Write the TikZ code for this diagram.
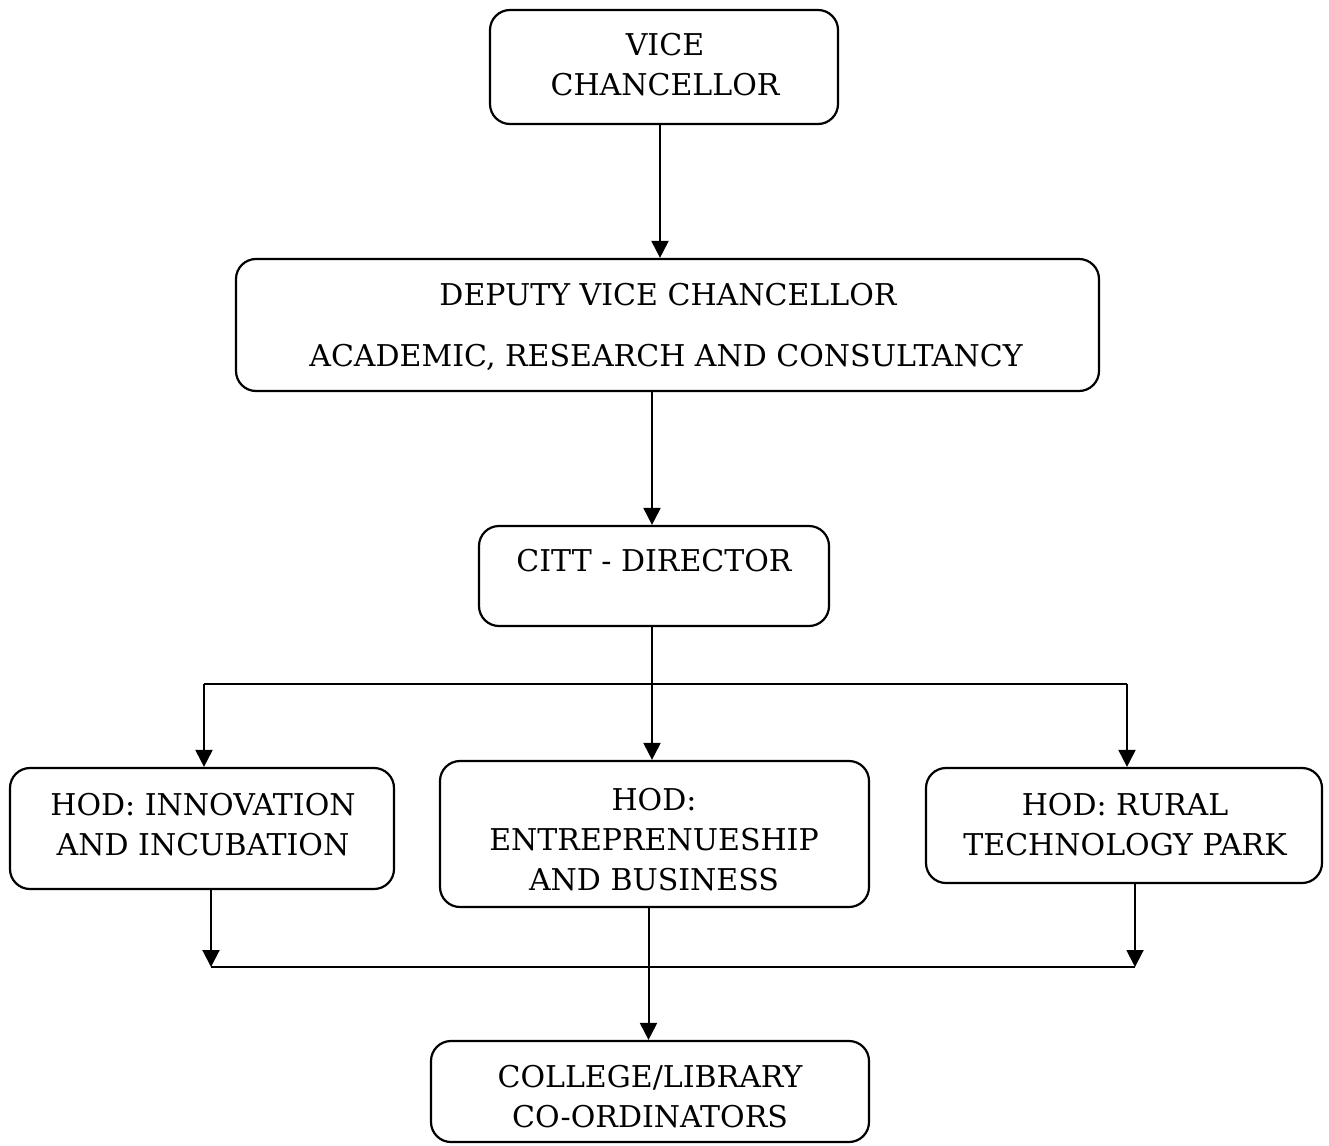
\documentclass[tikz,border=0pt]{standalone}
\usepackage{fontspec}
\usepackage{graphicx}
\setmainfont{DejaVu Serif}
\usetikzlibrary{arrows.meta,fit}
\begin{document}
\begin{tikzpicture}[x=1pt,y=-1pt,
  box/.style={draw, line width=2.2pt, rounded corners=20pt, inner sep=0pt},
  lbl/.style={align=center, inner sep=0pt, font=\fontsize{30}{40}\selectfont},
  link/.style={line width=2pt},
  arr/.style={line width=2pt, -{Triangle[width=17pt,length=17pt]}}]
\useasboundingbox (0,0) rectangle (1329,1145);

% boxes
\node[box, fit={(490,10) (838,124)}] (vc) {};
\node[box, fit={(236,259) (1099,391)}] (dvc) {};
\node[box, fit={(479,526) (829,626)}] (citt) {};
\node[box, fit={(10,768) (394,889)}] (hod1) {};
\node[box, fit={(440,761) (869,907)}] (hod2) {};
\node[box, fit={(926,768) (1322,883)}] (hod3) {};
\node[box, fit={(431,1041) (869,1142)}] (co) {};

% texts
\node[lbl] (vct) at (665,65) {VICE\\CHANCELLOR};
\node[lbl] (dvct1) at (668,295) {DEPUTY VICE CHANCELLOR};
\node[lbl] (dvct2) at (666,357) {ACADEMIC, RESEARCH AND CONSULTANCY};
\node[lbl] (cittt) at (654,561) {CITT - DIRECTOR};
\node[lbl] (hod1t) at (203,825) {HOD: INNOVATION\\AND INCUBATION};
\node[lbl] (hod2t) at (654,840) {HOD:\\ENTREPRENUESHIP\\AND BUSINESS};
\node[lbl] (hod3t) at (1125,825) {HOD: RURAL\\TECHNOLOGY PARK};
\node[lbl] (cot) at (650,1097) {COLLEGE/LIBRARY\\CO-ORDINATORS};

% junction points
\coordinate (split) at (652,684);
\coordinate (merge) at (648,967);

% connectors
\draw[arr] ([xshift=-4pt]vc.south) -- ([xshift=-4pt]vc.south |- dvc.north);
\draw[arr] ([xshift=-2pt]citt.north |- dvc.south) -- ([xshift=-2pt]citt.north);
\draw[arr] ([xshift=-2pt]citt.south) -- ([xshift=-2pt]citt.south |- hod2.north);
\draw[link] ([xshift=2pt]hod1.north |- split) -- ([xshift=3pt]hod3.north |- split);
\draw[arr] ([xshift=2pt]hod1.north |- split) -- ([xshift=2pt]hod1.north);
\draw[arr] ([xshift=3pt]hod3.north |- split) -- ([xshift=3pt]hod3.north);
\draw[arr] ([xshift=9pt]hod1.south) -- ([xshift=9pt]hod1.south |- merge);
\draw[arr] ([xshift=11pt]hod3.south) -- ([xshift=11pt]hod3.south |- merge);
\draw[link] ([xshift=9pt]hod1.south |- merge) -- ([xshift=11pt]hod3.south |- merge);
\draw[arr] ([xshift=-6pt]hod2.south) -- ([xshift=-6pt]hod2.south |- co.north);
\end{tikzpicture}
\end{document}
